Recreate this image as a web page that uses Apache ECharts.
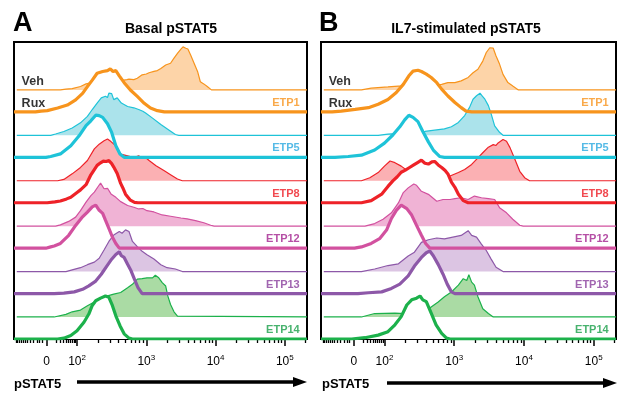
<!DOCTYPE html>
<html>
<head>
<meta charset="utf-8">
<title>pSTAT5 histograms</title>
<script src="https://cdn.jsdelivr.net/npm/echarts@6/dist/echarts.min.js"></script>
<style>
html, body { margin: 0; padding: 0; background: #fff; }
#chart { width: 618px; height: 393px; }
</style>
</head>
<body>
<div id="chart"></div>
<script>
// samples, one row each, top to bottom
var samples = ['ETP1', 'ETP5', 'ETP8', 'ETP12', 'ETP13', 'ETP14'];
var lineColors = ['#f7941d', '#1ec3d8', '#ee2228', '#d2519f', '#8d58a8', '#1cb14b'];
var fillColors = ['#fdd4a8', '#abe3eb', '#fbb0b3', '#f0b3d5', '#dcc5e3', '#aadba4'];
var labelColors = ['#f7941d', '#2aa9e0', '#ee1c24', '#a3238e', '#8a3f9c', '#1a9f4a'];

// histograms: [channel position in decades on the biex display, % of mode]
var basalVeh = [
    [[1.76,0],[1.84,2],[1.93,3],[2.05,8],[2.13,14],[2.22,17],[2.34,19],[2.53,19],[2.65,22],[2.72,24],[2.75,25],[2.82,24],[2.87,27],[2.94,35],[3.00,37],[3.04,40],[3.11,43],[3.16,45],[3.21,50],[3.28,58],[3.35,62],[3.40,74],[3.45,85],[3.50,95],[3.53,100],[3.55,96],[3.57,97],[3.60,95],[3.64,81],[3.69,62],[3.74,43],[3.78,19],[3.83,14],[3.88,8],[3.94,0]],
    [[1.62,0],[1.69,3],[1.81,9],[1.93,17],[2.05,29],[2.15,44],[2.22,60],[2.29,75],[2.35,87],[2.41,91],[2.44,88],[2.46,98],[2.50,97],[2.53,83],[2.58,87],[2.64,75],[2.73,67],[2.82,64],[2.89,60],[2.95,56],[2.99,52],[3.09,40],[3.21,25],[3.33,12],[3.42,2],[3.47,0]],
    [[1.72,0],[1.81,3],[1.93,16],[2.05,31],[2.15,47],[2.25,74],[2.32,85],[2.39,93],[2.44,97],[2.49,91],[2.56,81],[2.63,62],[2.73,58],[2.82,54],[2.89,58],[2.94,52],[2.99,54],[3.04,47],[3.14,35],[3.26,23],[3.35,14],[3.45,4],[3.52,0]],
    [[1.69,0],[1.76,3],[1.88,11],[1.98,21],[2.05,36],[2.13,56],[2.20,71],[2.25,79],[2.30,91],[2.34,100],[2.39,87],[2.44,88],[2.49,75],[2.56,67],[2.63,57],[2.73,48],[2.82,44],[2.89,40],[2.95,41],[3.01,36],[3.11,33],[3.23,26],[3.35,23],[3.50,19],[3.59,17],[3.71,13],[3.83,8],[3.93,2],[3.98,0]],
    [[1.84,0],[1.93,4],[2.05,9],[2.15,16],[2.25,22],[2.32,31],[2.39,50],[2.46,70],[2.53,85],[2.61,93],[2.65,89],[2.70,97],[2.75,93],[2.80,70],[2.87,58],[2.94,47],[3.01,39],[3.11,29],[3.21,16],[3.30,9],[3.42,6],[3.52,0]],
    [[1.67,0],[1.84,6],[1.93,12],[2.05,16],[2.15,26],[2.25,35],[2.34,41],[2.44,49],[2.53,53],[2.63,57],[2.73,68],[2.80,76],[2.87,88],[2.94,89],[3.01,91],[3.09,91],[3.13,97],[3.18,91],[3.23,80],[3.28,72],[3.31,49],[3.35,29],[3.40,12],[3.45,2],[3.47,0]]
];
var basalRux = [
    [[1.40,0],[1.48,2],[1.57,3],[1.72,9],[1.86,16],[1.98,28],[2.08,43],[2.15,59],[2.22,74],[2.29,90],[2.37,94],[2.44,96],[2.48,100],[2.52,94],[2.56,96],[2.61,84],[2.68,68],[2.77,51],[2.87,36],[2.97,20],[3.06,9],[3.16,3],[3.26,0]],
    [[1.55,0],[1.62,2],[1.76,8],[1.91,27],[2.03,50],[2.13,74],[2.20,85],[2.27,98],[2.32,97],[2.37,93],[2.44,78],[2.50,58],[2.56,27],[2.62,8],[2.68,0]],
    [[1.57,0],[1.68,2],[1.76,4],[1.85,9],[1.91,13],[2.00,24],[2.05,30],[2.13,42],[2.20,65],[2.29,87],[2.34,93],[2.38,97],[2.42,96],[2.46,98],[2.50,91],[2.53,83],[2.58,68],[2.63,45],[2.66,35],[2.70,20],[2.77,6],[2.83,1],[2.88,0]],
    [[1.55,0],[1.62,3],[1.67,5],[1.76,11],[1.88,30],[1.98,53],[2.08,73],[2.15,84],[2.22,96],[2.27,100],[2.32,88],[2.37,81],[2.41,65],[2.46,46],[2.51,26],[2.56,11],[2.61,0]],
    [[1.67,0],[1.81,1],[1.96,4],[2.08,10],[2.17,18],[2.27,29],[2.35,45],[2.43,64],[2.50,80],[2.56,91],[2.61,97],[2.64,88],[2.68,84],[2.73,68],[2.78,53],[2.83,33],[2.88,14],[2.94,0]],
    [[1.72,0],[1.81,2],[1.91,8],[2.00,19],[2.10,39],[2.17,58],[2.22,78],[2.27,89],[2.34,95],[2.41,100],[2.46,97],[2.51,78],[2.56,54],[2.62,31],[2.68,12],[2.75,2],[2.80,0]]
];
var il7Veh = [
    [[1.67,0],[1.81,4],[2.05,7],[2.20,9],[2.53,9],[2.82,13],[2.91,17],[3.01,17],[3.10,21],[3.20,29],[3.27,40],[3.34,48],[3.41,67],[3.46,87],[3.51,98],[3.53,95],[3.56,97],[3.60,79],[3.65,60],[3.70,36],[3.77,17],[3.84,9],[3.92,0]],
    [[1.91,0],[2.05,3],[2.29,5],[2.58,9],[2.72,12],[2.86,15],[2.96,20],[3.06,30],[3.15,46],[3.22,65],[3.27,84],[3.32,92],[3.37,98],[3.40,92],[3.44,84],[3.49,69],[3.53,50],[3.58,22],[3.65,7],[3.70,0]],
    [[1.67,0],[1.79,7],[1.91,19],[2.00,34],[2.08,46],[2.15,42],[2.24,34],[2.34,22],[2.60,18],[2.94,11],[3.06,19],[3.15,26],[3.25,38],[3.34,53],[3.41,65],[3.49,78],[3.56,84],[3.60,82],[3.63,88],[3.70,96],[3.75,92],[3.80,77],[3.87,50],[3.94,22],[4.01,7],[4.08,0]],
    [[1.72,0],[1.86,6],[1.98,16],[2.10,31],[2.20,54],[2.27,78],[2.34,89],[2.42,98],[2.46,95],[2.53,81],[2.63,74],[2.75,58],[2.84,62],[2.94,62],[3.01,64],[3.10,66],[3.20,62],[3.29,70],[3.39,66],[3.49,64],[3.58,62],[3.65,43],[3.75,31],[3.84,16],[3.94,2],[3.99,0]],
    [[1.67,0],[1.86,6],[2.05,14],[2.20,18],[2.34,36],[2.43,45],[2.53,68],[2.63,74],[2.75,78],[2.86,76],[2.98,80],[3.10,84],[3.20,95],[3.25,84],[3.32,80],[3.39,64],[3.46,49],[3.53,29],[3.60,10],[3.70,0]],
    [[1.67,0],[1.86,8],[2.15,9],[2.29,8],[2.58,12],[2.67,23],[2.77,35],[2.86,47],[2.96,58],[3.06,74],[3.13,89],[3.18,85],[3.21,98],[3.25,81],[3.29,74],[3.34,47],[3.41,19],[3.49,8],[3.56,0]]
];
var il7Rux = [
    [[1.25,0],[1.38,2],[1.58,6],[1.77,10],[1.91,18],[2.05,29],[2.17,45],[2.27,64],[2.35,84],[2.41,95],[2.48,97],[2.53,94],[2.60,88],[2.67,80],[2.75,68],[2.82,53],[2.91,37],[3.01,22],[3.10,10],[3.17,2],[3.25,0]],
    [[1.29,0],[1.48,2],[1.67,5],[1.86,17],[2.00,33],[2.12,52],[2.22,71],[2.29,87],[2.35,98],[2.41,93],[2.48,83],[2.55,60],[2.63,36],[2.70,17],[2.79,2],[2.86,0]],
    [[1.67,0],[1.81,5],[1.96,20],[2.00,28],[2.05,38],[2.12,51],[2.18,60],[2.24,71],[2.30,76],[2.36,82],[2.42,88],[2.48,94],[2.53,99],[2.58,92],[2.63,90],[2.68,95],[2.72,96],[2.77,88],[2.82,82],[2.87,75],[2.91,67],[2.96,48],[3.01,36],[3.06,20],[3.13,5],[3.20,0]],
    [[1.57,0],[1.67,3],[1.81,11],[1.93,22],[2.03,42],[2.10,69],[2.17,88],[2.24,100],[2.32,92],[2.39,77],[2.46,53],[2.53,30],[2.59,11],[2.65,0]],
    [[1.62,0],[1.77,2],[1.96,4],[2.10,12],[2.22,22],[2.34,41],[2.43,64],[2.53,84],[2.60,95],[2.65,99],[2.70,88],[2.77,68],[2.84,45],[2.90,22],[2.96,4],[3.01,0]],
    [[1.53,0],[1.72,3],[1.91,9],[2.05,17],[2.15,33],[2.24,52],[2.32,79],[2.39,91],[2.46,95],[2.51,100],[2.55,91],[2.60,87],[2.67,60],[2.74,33],[2.82,13],[2.89,2],[2.94,0]]
];

// axis tick values (intensity)
var majorTicks = [0, 100, 1000, 10000, 100000];
var negTicks = [-100, -90, -80, -70, -60, -50, -40, -30, -20, -10, -5, -2];
var linTicks = [10, 20, 30, 40, 50, 60, 70, 80, 90];

var X_MIN = 1.09, X_MAX = 5.32;
var Y_MAX = 6.54, PEAK = 0.947, VEH_OFFSET = 0.485;
var FONT = '"Liberation Sans", Arial, sans-serif';

// biexponential-like display: log above 100, compressed linear zone round 0
function biex(v) {
    if (v >= 100) return Math.log10(v);
    var s = Math.sqrt(Math.abs(v) / 100) * 0.44;
    return v >= 0 ? 1.56 + s : 1.56 - s;
}

var minorTicks = negTicks.concat(linTicks);
for (var k = 2; k <= 4; k++) {
    for (var m = 2; m <= 9; m++) minorTicks.push(m * Math.pow(10, k));
}
minorTicks.push(200000);
var minorPos = minorTicks.map(biex);
var majorPos = majorTicks.map(biex);

var panels = [
    { title: 'Basal pSTAT5', letter: 'A', veh: basalVeh, rux: basalRux, left: 14, right: 311 },
    { title: 'IL7-stimulated pSTAT5', letter: 'B', veh: il7Veh, rux: il7Rux, left: 321, right: 2 }
];

function toSeries(hist, base, start) {
    var pts = [[start, base]];
    hist.forEach(function (p) { pts.push([p[0], base + p[1] / 100 * PEAK]); });
    pts.push([X_MAX, base]);
    return pts;
}

var grids = [], xAxes = [], yAxes = [], series = [];

panels.forEach(function (pn, g) {
    grids.push({ left: pn.left, right: pn.right, top: 42, bottom: 54, show: true,
        borderColor: '#000', borderWidth: 2, backgroundColor: 'transparent' });
    xAxes.push({
        gridIndex: g, type: 'value', min: X_MIN, max: X_MAX, position: 'bottom', offset: 0,
        axisLine: { show: false }, splitLine: { show: false },
        axisTick: { show: true, customValues: minorPos, length: 4, lineStyle: { color: '#000', width: 1.3 } },
        axisLabel: { show: false }
    });
    xAxes.push({
        gridIndex: g, type: 'value', min: X_MIN, max: X_MAX, position: 'bottom', offset: 0,
        axisLine: { show: false }, splitLine: { show: false },
        axisTick: { show: true, customValues: majorPos, length: 7, lineStyle: { color: '#000', width: 1.5 } },
        axisLabel: {
            show: true, customValues: majorPos, margin: 15, color: '#000',
            formatter: function (v) {
                if (v < 1.9) return '{s| }{n|0}{s| }';
                return '{n|10}{s|' + Math.round(v) + '}';
            },
            rich: {
                n: { fontSize: 12, fontFamily: FONT, color: '#000' },
                s: { fontSize: 8, fontFamily: FONT, color: '#000', padding: [0, 0, 8, 0] }
            }
        }
    });
    yAxes.push({ gridIndex: g, type: 'value', min: 0, max: Y_MAX, show: false });

    var labelData = [];
    samples.forEach(function (name, i) {
        var ruxBase = 5 - i;
        var vehBase = ruxBase + VEH_OFFSET;
        series.push({
            type: 'line', xAxisIndex: 2 * g, yAxisIndex: g, z: 2 + 2 * i,
            symbol: 'none', silent: true,
            data: toSeries(pn.veh[i], vehBase, 1.13),
            lineStyle: { color: lineColors[i], width: 1.2 },
            areaStyle: { color: fillColors[i], opacity: 1, origin: vehBase }
        });
        series.push({
            type: 'line', xAxisIndex: 2 * g, yAxisIndex: g, z: 3 + 2 * i,
            symbol: 'none', silent: true,
            data: toSeries(pn.rux[i], ruxBase, X_MIN),
            lineStyle: { width: 0, opacity: 0 },
            areaStyle: { color: '#fff', opacity: 1, origin: ruxBase }
        });
        series.push({
            type: 'line', xAxisIndex: 2 * g, yAxisIndex: g, z: 40 - i,
            symbol: 'none', silent: true,
            data: toSeries(pn.rux[i], ruxBase, X_MIN),
            lineStyle: { color: lineColors[i], width: 3.2 }
        });
        labelData.push({ value: [5.215, ruxBase + 0.2],
            label: { formatter: name, color: labelColors[i], align: 'right' } });
    });
    labelData.push({ value: [1.2, 5 + 0.68], label: { formatter: 'Veh', color: '#000', align: 'left', fontSize: 12.5 } });
    labelData.push({ value: [1.2, 5 + 0.19], label: { formatter: 'Rux', color: '#000', align: 'left', fontSize: 12.5 } });
    series.push({
        type: 'scatter', xAxisIndex: 2 * g, yAxisIndex: g, z: 60, silent: true,
        symbolSize: 1, itemStyle: { color: 'rgba(0,0,0,0)' },
        label: { show: true, position: 'inside', verticalAlign: 'middle',
            fontSize: 11, fontWeight: 'bold', fontFamily: FONT },
        data: labelData
    });
});

function arrow(x1, x2, y) {
    return {
        type: 'group', children: [
            { type: 'line', shape: { x1: x1, y1: y, x2: x2 - 12, y2: y }, style: { stroke: '#000', lineWidth: 3.5 } },
            { type: 'polygon', shape: { points: [[x2 - 14, y - 5], [x2, y], [x2 - 14, y + 5]] }, style: { fill: '#000' } }
        ]
    };
}

function text(str, x, y, size, align) {
    return { type: 'text', x: x, y: y,
        style: { text: str, fill: '#000', font: 'bold ' + size + 'px ' + FONT,
            textAlign: align, textVerticalAlign: 'middle' } };
}

var graphics = [
    text('A', 13, 24, 27, 'left'),
    text('Basal pSTAT5', 171, 29, 14, 'center'),
    text('B', 319, 24, 27, 'left'),
    text('IL7-stimulated pSTAT5', 466, 29, 14, 'center'),
    text('pSTAT5', 14, 384, 13, 'left'),
    text('pSTAT5', 322, 384, 13, 'left'),
    arrow(77, 307, 382),
    arrow(387, 617, 383)
];

var chart = echarts.init(document.getElementById('chart'));
chart.setOption({
    animation: false,
    backgroundColor: '#fff',
    grid: grids,
    xAxis: xAxes,
    yAxis: yAxes,
    series: series,
    graphic: graphics
});
</script>
</body>
</html>
